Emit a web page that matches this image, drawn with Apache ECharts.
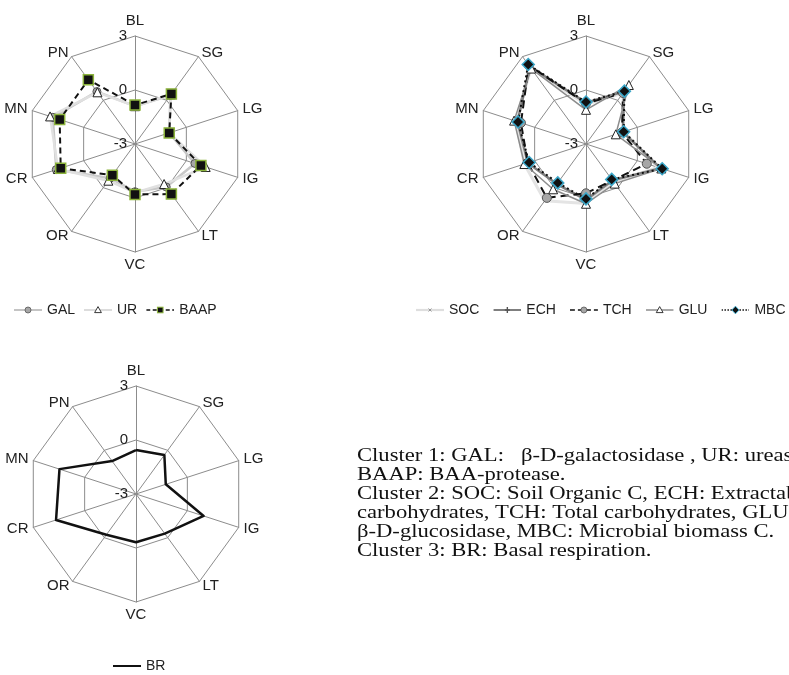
<!DOCTYPE html>
<html><head><meta charset="utf-8">
<script src="https://cdn.jsdelivr.net/npm/echarts@6/dist/echarts.min.js"></script>
<style>html,body{margin:0;padding:0;background:#fff}#c{width:789px;height:675px}</style>
</head><body><div id="c"></div>
<script>
// ---- data (clockwise order starting at top) ----
const axes = ['BL','SG','LG','IG','LT','VC','OR','CR','MN','PN'];
const axisMin = -3, axisMax = 3;
// Cluster 1
const GAL  = [-0.9, 0.35, -1.0, 0.5, -0.05, -0.35, -0.65, 1.6, 1.8, 0.6];
const UR   = [-0.9, 0.4, -1.0, 1.13, -0.25, -0.3, -0.48, 1.5, 1.96, 0.55];
const BAAP = [-0.84, 0.44, -1.0, 0.85, 0.44, -0.2, -0.86, 1.34, 1.4, 1.41];
// Cluster 2
const SOC = [-0.8, 0.5, -0.8, 1.2, -0.4, 0.3, 0.9, 0.6, 1.1, 2.2];
const ECH = [-0.7, 0.6, -0.85, 1.35, -0.5, 0.1, -0.25, 0.4, 1.0, 2.3];
const TCH = [-0.75, 0.5, -0.9, 0.55, -0.5, -0.26, 0.7, 0.4, 0.8, 2.4];
const GLU = [-1.1, 1.05, -1.26, 1.4, -0.28, 0.32, 0.11, 0.6, 1.2, 2.18];
const MBC = [-0.67, 0.63, -0.8, 1.45, -0.57, 0.05, -0.33, 0.32, 0.97, 2.46];
// Cluster 3
const BR = [-0.56, -0.32, -1.26, 0.95, -0.28, -0.32, -0.2, 1.67, 1.47, -0.74];

const noteLines = [
  'Cluster 1: GAL:   \u03b2-D-galactosidase , UR: urease,',
  'BAAP: BAA-protease.',
  'Cluster 2: SOC: Soil Organic C, ECH: Extractable',
  'carbohydrates, TCH: Total carbohydrates, GLU:',
  '\u03b2-D-glucosidase, MBC: Microbial biomass C.',
  'Cluster 3: BR: Basal respiration.'
];

// ECharts places radar indicators counter-clockwise; reorder to clockwise
const cw = a => [a[0]].concat(a.slice(1).reverse());

const SANS = '"Liberation Sans", Arial, sans-serif';
const gridColor = '#8c8c8c';

function indicators() {
  return cw(axes).map((n, i) => {
    const o = {name: n, min: axisMin, max: axisMax};
    if (i === 0) o.axisLabel = {show: true, color: '#222', fontSize: 15, fontFamily: SANS, margin: 8};
    return o;
  });
}
function radar(center) {
  return {
    center: center, radius: 108, startAngle: 90, splitNumber: 2, shape: 'polygon',
    indicator: indicators(), nameGap: 5,
    axisName: {color: '#222', fontSize: 15, fontFamily: SANS},
    splitLine: {lineStyle: {color: gridColor, width: 1}},
    splitArea: {show: false},
    axisLine: {lineStyle: {color: gridColor, width: 1}},
    axisTick: {show: false},
    axisLabel: {show: false}
  };
}
function ser(idx, name, vals, lineStyle, sym, symSize, itemStyle) {
  return {
    type: 'radar', radarIndex: idx, name: name, silent: true,
    symbol: sym, symbolSize: symSize,
    lineStyle: lineStyle, itemStyle: itemStyle,
    data: [{name: name, value: cw(vals)}]
  };
}
function icon(line, marker) {
  const svg = '<svg xmlns="http://www.w3.org/2000/svg" width="28" height="12" viewBox="0 0 28 12">' + line + (marker || '') + '</svg>';
  return 'image://data:image/svg+xml;charset=utf-8,' + encodeURIComponent(svg);
}
const L = (c, w, dash) => '<line x1="0" y1="6" x2="28" y2="6" stroke="' + c + '" stroke-width="' + w + '"' + (dash ? ' stroke-dasharray="' + dash + '"' : '') + '/>';
const mCircle = '<circle cx="14" cy="6" r="3" fill="#a6a6a6" stroke="#555" stroke-width="0.8"/>';
const mTri = '<path d="M14,2.6 L17.4,8.6 L10.6,8.6 Z" fill="#fff" stroke="#222" stroke-width="0.9"/>';
const mSq = '<rect x="11.2" y="3.2" width="5.6" height="5.6" fill="#111" stroke="#8cb43c" stroke-width="1"/>';
const mX = '<path d="M12.5,4.5 L15.5,7.5 M15.5,4.5 L12.5,7.5" stroke="#999" stroke-width="1"/>';
const mPlus = '<path d="M14,3 V9 M11.5,6 H16.5" stroke="#555" stroke-width="1.4"/>';
const mDia = '<path d="M14,2.2 L17.6,6 L14,9.8 L10.4,6 Z" fill="#111" stroke="#3aa6c8" stroke-width="1"/>';

const legendText = {color: '#222', fontSize: 14, fontFamily: SANS};
function legend(left, top, gap, items) {
  return {left: left, top: top, orient: 'horizontal', itemWidth: 28, itemHeight: 12, itemGap: gap,
    selectedMode: false, textStyle: legendText, padding: 0,
    data: items.map(it => ({name: it[0], icon: it[1]}))};
}

const option = {
  animation: false,
  backgroundColor: '#fff',
  radar: [radar([135, 144]), radar([586, 144]), radar([136, 494])],
  legend: [
    legend(14, 303, 9, [['GAL', icon(L('#c4c4c4', 2), mCircle)], ['UR', icon(L('#dcdcdc', 2), mTri)], ['BAAP', icon(L('#111', 1.6, '4,2.5'), mSq)]]),
    legend(416, 303, 14, [['SOC', icon(L('#dedede', 2.2), mX)], ['ECH', icon(L('#7f7f7f', 2), mPlus)], ['TCH', icon(L('#111', 1.6, '5,3'), mCircle)], ['GLU', icon(L('#8c8c8c', 1.5), mTri)], ['MBC', icon(L('#111', 1.5, '1.5,1.5'), mDia)]]),
    legend(113, 659, 9, [['BR', icon(L('#111', 2))]])
  ],
  series: [
    ser(0, 'GAL', GAL, {color: '#c8c8c8', width: 2.5}, 'circle', 8, {color: '#a6a6a6', borderColor: '#555', borderWidth: 1}),
    ser(0, 'UR', UR, {color: '#e0e0e0', width: 2.5}, 'triangle', 9, {color: '#fff', borderColor: '#222', borderWidth: 1}),
    ser(0, 'BAAP', BAAP, {color: '#111', width: 2, type: [6, 4]}, 'rect', 10, {color: '#111', borderColor: '#8cb43c', borderWidth: 1.5}),
    ser(1, 'SOC', SOC, {color: '#e4e4e4', width: 3}, 'none', 6, {color: '#e4e4e4'}),
    ser(1, 'ECH', ECH, {color: '#7f7f7f', width: 2.5}, 'none', 6, {color: '#7f7f7f'}),
    ser(1, 'TCH', TCH, {color: '#111', width: 2, type: [8, 5]}, 'circle', 9, {color: '#a6a6a6', borderColor: '#555', borderWidth: 1}),
    ser(1, 'GLU', GLU, {color: '#8c8c8c', width: 1.5}, 'triangle', 9, {color: '#fff', borderColor: '#222', borderWidth: 1}),
    ser(1, 'MBC', MBC, {color: '#111', width: 2, type: [2, 3]}, 'diamond', 12, {color: '#111', borderColor: '#3aa6c8', borderWidth: 1.5}),
    ser(2, 'BR', BR, {color: '#111', width: 2.5}, 'none', 6, {color: '#111'})
  ],
  graphic: [{
    type: 'text', x: 357, y: 447, scaleX: 1.19, silent: true,
    style: {text: noteLines.join('\n'), font: '19px "Liberation Serif", "Times New Roman", serif', lineHeight: 19, fill: '#111', textAlign: 'left', textVerticalAlign: 'top'}
  }]
};
const chart = echarts.init(document.getElementById('c'), null, {renderer: 'canvas'});
chart.setOption(option);
</script></body></html>
